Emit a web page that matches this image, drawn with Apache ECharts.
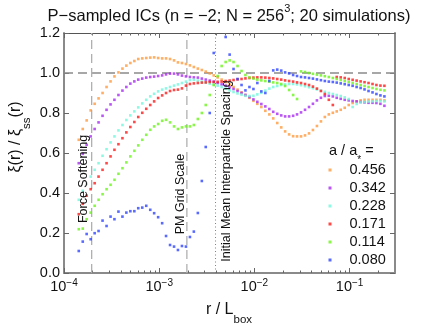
<!DOCTYPE html>
<html>
<head>
<meta charset="utf-8">
<script src="https://cdn.jsdelivr.net/npm/echarts@6/dist/echarts.min.js"></script>
<style>
  html, body { margin: 0; padding: 0; background: #fff; }
  #chart { width: 436px; height: 328px; }
</style>
</head>
<body>
<div id="chart"></div>
<script>
// bin centres, log10(r / L_box)
const logR = [
  -3.845, -3.803, -3.762, -3.720, -3.678, -3.637, -3.595, -3.553, -3.511, -3.470,
  -3.428, -3.386, -3.345, -3.303, -3.261, -3.220, -3.178, -3.136, -3.094, -3.053,
  -3.011, -2.969, -2.928, -2.886, -2.844, -2.803, -2.761, -2.719, -2.677, -2.636,
  -2.594, -2.552, -2.511, -2.469, -2.427, -2.386, -2.344, -2.302, -2.260, -2.219,
  -2.177, -2.135, -2.094, -2.052, -2.010, -1.969, -1.927, -1.885, -1.843, -1.802,
  -1.760, -1.718, -1.677, -1.635, -1.593, -1.552, -1.510, -1.468, -1.426, -1.385,
  -1.343, -1.301, -1.260, -1.218, -1.176, -1.135, -1.093, -1.051, -1.009, -0.968,
  -0.926, -0.884, -0.843, -0.801, -0.759, -0.718, -0.676, -0.634
];

// xi(r) / xi_ss(r) for each a / a_*
const ratio456 = [
  0.666, 0.720, 0.763, 0.813, 0.846, 0.873, 0.900, 0.930, 0.958, 0.983,
  1.003, 1.022, 1.037, 1.050, 1.060, 1.070, 1.073, 1.075, 1.077, 1.078,
  1.075, 1.073, 1.073, 1.070, 1.063, 1.053, 1.050, 1.045, 1.038, 1.030,
  1.022, 1.015, 1.007, 0.998, 0.988, 0.978, 0.967, 0.955, 0.942, 0.930,
  0.917, 0.903, 0.890, 0.876, 0.861, 0.846, 0.830, 0.811, 0.793, 0.773,
  0.750, 0.728, 0.708, 0.693, 0.684, 0.683, 0.683, 0.688, 0.698, 0.715,
  0.735, 0.758, 0.780, 0.793, 0.801, 0.808, 0.816, 0.826, 0.840, 0.850,
  0.858, 0.863, 0.866, 0.866, 0.866, 0.866, 0.866, 0.863
];
const ratio342 = [
  0.549, 0.596, 0.641, 0.683, 0.720, 0.753, 0.786, 0.816, 0.843, 0.866,
  0.890, 0.912, 0.930, 0.947, 0.958, 0.967, 0.972, 0.977, 0.980, 0.982,
  0.985, 0.988, 0.993, 0.997, 0.997, 0.993, 0.987, 0.983, 0.980, 0.978,
  0.977, 0.972, 0.967, 0.962, 0.957, 0.950, 0.943, 0.937, 0.928, 0.920,
  0.910, 0.900, 0.890, 0.880, 0.868, 0.856, 0.845, 0.833, 0.820, 0.806,
  0.796, 0.788, 0.783, 0.783, 0.786, 0.793, 0.803, 0.816, 0.830, 0.846,
  0.863, 0.876, 0.885, 0.886, 0.883, 0.876, 0.871, 0.866, 0.863, 0.860,
  0.858, 0.855, 0.853, 0.851, 0.851, 0.850, 0.846, 0.836
];
const ratio228 = [
  0.366, 0.411, 0.446, 0.482, 0.516, 0.549, 0.586, 0.619, 0.653, 0.683,
  0.713, 0.740, 0.765, 0.788, 0.808, 0.828, 0.848, 0.866, 0.883, 0.896,
  0.908, 0.917, 0.923, 0.930, 0.937, 0.943, 0.950, 0.957, 0.965, 0.966,
  0.962, 0.957, 0.952, 0.947, 0.942, 0.937, 0.930, 0.922, 0.913, 0.905,
  0.898, 0.892, 0.886, 0.885, 0.886, 0.893, 0.901, 0.912, 0.922, 0.930,
  0.935, 0.940, 0.943, 0.945, 0.945, 0.943, 0.939, 0.934, 0.929, 0.924,
  0.918, 0.912, 0.906, 0.900, 0.895, 0.890, 0.885, 0.878, 0.870, 0.830,
  0.845, 0.853, 0.855, 0.857, 0.858, 0.860, 0.860, 0.858
];
const ratio171 = [
  0.294, 0.346, 0.387, 0.419, 0.449, 0.482, 0.516, 0.549, 0.583, 0.616,
  0.644, 0.674, 0.703, 0.730, 0.755, 0.780, 0.801, 0.821, 0.840, 0.858,
  0.875, 0.888, 0.900, 0.910, 0.915, 0.917, 0.923, 0.937, 0.945, 0.948,
  0.950, 0.952, 0.953, 0.955, 0.955, 0.956, 0.957, 0.960, 0.962, 0.965,
  0.968, 0.970, 0.973, 0.975, 0.977, 0.978, 0.978, 0.977, 0.975, 0.973,
  0.970, 0.967, 0.963, 0.960, 0.957, 0.953, 0.950, 0.945, 0.940, 0.932,
  0.922, 0.910, 0.895, 0.866, 0.840, 0.980, 0.978, 0.975, 0.970, 0.966,
  0.962, 0.958, 0.954, 0.950, 0.945, 0.940, 0.937, 0.936
];
const ratio114 = [
  0.219, 0.222, 0.269, 0.302, 0.336, 0.366, 0.394, 0.419, 0.441, 0.466,
  0.496, 0.524, 0.553, 0.583, 0.611, 0.638, 0.666, 0.691, 0.716, 0.733,
  0.745, 0.761, 0.766, 0.753, 0.733, 0.720, 0.728, 0.733, 0.733, 0.740,
  0.770, 0.800, 0.840, 0.890, 0.940, 0.985, 1.035, 1.055, 1.063, 1.055,
  1.035, 1.010, 0.990, 0.978, 0.972, 0.967, 0.963, 0.960, 0.957, 0.953,
  0.950, 0.945, 0.935, 0.915, 0.890, 0.870, 1.008, 1.005, 1.000, 0.996,
  0.992, 0.988, 0.984, 0.980, 0.975, 0.970, 0.965, 0.960, 0.955, 0.950,
  0.945, 0.940, 0.935, 0.930, 0.925, 0.920, 0.916, 0.913
];
const ratio080 = [
  0.110, 0.157, 0.195, 0.169, 0.199, 0.210, 0.262, 0.235, 0.282, 0.269,
  0.307, 0.282, 0.302, 0.309, 0.309, 0.324, 0.327, 0.336, 0.316, 0.299,
  0.279, 0.249, 0.185, 0.140, 0.132, 0.115, 0.135, 0.132, 0.180, 0.207,
  0.300, 0.460, 0.630, 0.800, 1.100, 1.260, 1.240, 1.180, 1.092, 1.020,
  0.970, 0.940, 0.913, 0.930, 0.920, 0.950, 0.908, 0.900, 0.960, 1.013,
  1.017, 1.012, 1.003, 0.998, 0.990, 0.985, 0.980, 0.978, 0.975, 0.972,
  0.968, 0.964, 0.960, 0.957, 0.955, 0.952, 0.948, 0.944, 0.940, 0.936,
  0.930, 0.925, 0.918, 0.910, 0.903, 0.895, 0.888, 0.883
];

const scaleNames = ['0.456', '0.342', '0.228', '0.171', '0.114', '0.080'];
const scaleColors = ['#ff9a3c', '#a82cf2', '#72f7dc', '#ff1a1a', '#6cf51a', '#2e45ff'];
const scaleValues = [ratio456, ratio342, ratio228, ratio171, ratio114, ratio080];

// reference scales (r / L_box)
const forceSoftening = 1 / 5120;
const pmGridScale = 1 / 512;
const interparticleSpacing = 1 / 256;

const xTickLabels = [1e-4, 1e-3, 1e-2, 1e-1];
const rMin = 1e-4;
const rMax = 0.3;
const ratioMax = 1.2;

const FONT = '"Liberation Sans", Arial, Helvetica, sans-serif';
const AXIS_GRAY = '#8a8a8a';

const minorTicks = [];
xTickLabels.forEach((decade) => {
  for (let m = 2; m <= 9; m++) {
    if (m * decade < rMax) minorTicks.push(m * decade);
  }
});

function logAxis(position, major, showLine) {
  return {
    type: 'log',
    logBase: 10,
    min: rMin,
    max: rMax,
    position: position,
    axisLine: {
      show: showLine,
      onZero: false,
      lineStyle: position === 'top' ? {color: '#555', width: 1} : {color: AXIS_GRAY, width: 2},
    },
    axisTick: {
      show: true,
      inside: true,
      length: major ? 5 : 2.5,
      customValues: major ? xTickLabels : minorTicks,
      lineStyle: {color: '#666', width: 1},
    },
    axisLabel: {show: false},
    splitLine: {show: false},
    minorTick: {show: false},
  };
}

const xAxes = [
  logAxis('bottom', true, true),
  logAxis('bottom', false, false),
  logAxis('top', true, true),
  logAxis('top', false, false),
];
xAxes[0].axisLabel = {
  show: true,
  customValues: xTickLabels,
  margin: 5,
  formatter: (v) => {
    const e = Math.round(Math.log10(v));
    return '{b|10}{s|' + (e < 0 ? '\u2212' + (-e) : e) + '}';
  },
  rich: {
    b: {fontFamily: FONT, fontSize: 14.5, color: '#111', lineHeight: 16, verticalAlign: 'bottom'},
    s: {fontFamily: FONT, fontSize: 10, color: '#111', lineHeight: 12, verticalAlign: 'top'},
  },
};

function valueAxis(position) {
  return {
    type: 'value',
    min: 0,
    max: ratioMax,
    interval: 0.2,
    position: position,
    axisLine: {show: true, onZero: false, lineStyle: {color: AXIS_GRAY, width: 2}},
    axisTick: {show: true, inside: true, length: 5, lineStyle: {color: '#666', width: 1}},
    axisLabel: {
      show: position === 'left',
      margin: 4,
      fontFamily: FONT,
      fontSize: 14.5,
      color: '#111',
      formatter: (v) => v.toFixed(1),
    },
    splitLine: {show: false},
  };
}

function guide(x0, y0, x1, y1, lineStyle) {
  return {
    type: 'line',
    xAxisIndex: 0,
    yAxisIndex: 0,
    silent: true,
    showSymbol: false,
    symbol: 'none',
    z: 1,
    lineStyle: lineStyle,
    data: [[x0, y0], [x1, y1]],
  };
}

const series = [
  guide(rMin, 1.0, rMax, 1.0, {type: [9, 5], color: '#8a8a8a', width: 1.3}),
  guide(forceSoftening, 0, forceSoftening, ratioMax, {type: [9, 5], color: '#b0b0b0', width: 1.3}),
  guide(pmGridScale, 0, pmGridScale, ratioMax, {type: [9, 5], color: '#b0b0b0', width: 1.3}),
  guide(interparticleSpacing, 0, interparticleSpacing, ratioMax, {type: [1, 2.5], color: '#808080', width: 1}),
];

scaleNames.forEach((name, k) => {
  series.push({
    name: name,
    type: 'scatter',
    xAxisIndex: 0,
    yAxisIndex: 0,
    symbol: 'rect',
    symbolSize: 2.6,
    clip: true,
    z: 3,
    itemStyle: {color: scaleColors[k]},
    data: scaleValues[k].map((v, i) => [Math.pow(10, logR[i]), v]),
  });
});

const txt = {fontFamily: FONT, color: '#111'};

function label(x, y, text, rich, opts) {
  return Object.assign({
    type: 'text',
    x: x,
    y: y,
    z: 10,
    silent: true,
    style: {
      text: text,
      rich: rich,
      fill: '#111',
      align: 'center',
      verticalAlign: 'middle',
      textAlign: 'center',
      textVerticalAlign: 'middle',
    },
  }, opts || {});
}

const graphics = [
  label(229, 14,
    '{t|P\u2212sampled ICs (n = \u22122; N = 256}{s|3}{t|; 20 simulations)}', {
      t: Object.assign({fontSize: 16.5, lineHeight: 22, verticalAlign: 'bottom'}, txt),
      s: Object.assign({fontSize: 11, lineHeight: 12, verticalAlign: 'top'}, txt),
    }),
  label(229, 311, '{a|r / L}{s|box}', {
    a: Object.assign({fontSize: 16, lineHeight: 18, verticalAlign: 'top'}, txt),
    s: Object.assign({fontSize: 11.5, lineHeight: 13, verticalAlign: 'bottom', padding: [0, 0, -6, 0]}, txt),
  }),
  label(17, 137, '{a|\u03be(r) / \u03be}{s|ss}{a|(r)}', {
    a: Object.assign({fontSize: 16, lineHeight: 18, verticalAlign: 'top'}, txt),
    s: Object.assign({fontSize: 11.5, lineHeight: 13, verticalAlign: 'bottom', padding: [0, 0, -7, 0]}, txt),
  }, {rotation: Math.PI / 2}),
  label(84, 179, '{a|Force Softening}', {a: Object.assign({fontSize: 12.5}, txt)}, {rotation: Math.PI / 2}),
  label(181, 194, '{a|PM Grid Scale}', {a: Object.assign({fontSize: 12.5}, txt)}, {rotation: Math.PI / 2}),
  label(227, 171, '{a|Initial Mean Interparticle Spacing}', {a: Object.assign({fontSize: 12.5}, txt)}, {rotation: Math.PI / 2}),
  label(329, 152, '{a|a / a}{s|*}{a| =}', {
    a: Object.assign({fontSize: 14.5, lineHeight: 17, verticalAlign: 'top'}, txt),
    s: Object.assign({fontSize: 10, lineHeight: 11, verticalAlign: 'bottom', padding: [0, 0, -5, 0]}, txt),
  }),
];
graphics[graphics.length - 1].style.align = 'left';
graphics[graphics.length - 1].style.textAlign = 'left';

const chart = echarts.init(document.getElementById('chart'));
chart.setOption({
  animation: false,
  backgroundColor: '#fff',
  grid: {left: 64, right: 41, top: 33, bottom: 55, containLabel: false},
  xAxis: xAxes,
  yAxis: [valueAxis('left'), valueAxis('right')],
  legend: {
    data: scaleNames,
    orient: 'vertical',
    left: 328.5,
    top: 162,
    padding: 0,
    itemGap: 2,
    itemWidth: 3,
    itemHeight: 3,
    icon: 'rect',
    selectedMode: false,
    textStyle: {fontFamily: FONT, fontSize: 14.5, color: '#111', lineHeight: 16, padding: [0, 0, 0, 13]},
  },
  graphic: graphics,
  series: series,
});
</script>
</body>
</html>
